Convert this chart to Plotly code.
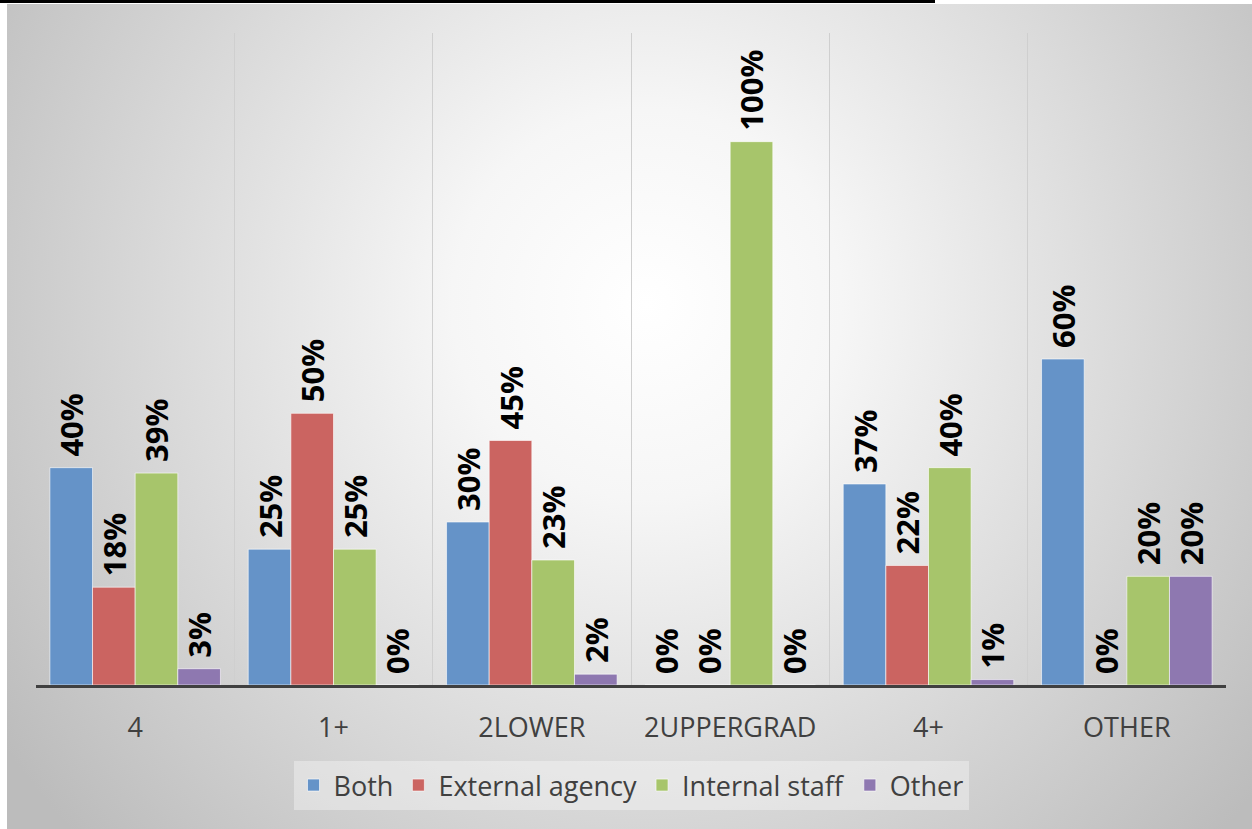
import plotly.graph_objs as go

categories = ["4", "1+", "2LOWER", "2UPPERGRAD", "4+", "OTHER"]
both = [0.40, 0.25, 0.30, 0.00, 0.37, 0.60]
external_agency = [0.18, 0.50, 0.45, 0.00, 0.22, 0.00]
internal_staff = [0.39, 0.25, 0.23, 1.00, 0.40, 0.20]
other = [0.03, 0.00, 0.02, 0.00, 0.01, 0.20]

series = [
    ("Both", both, "#6593C8"),
    ("External agency", external_agency, "#CB6461"),
    ("Internal staff", internal_staff, "#A7C56B"),
    ("Other", other, "#8E78B0"),
]

W, H = 1252, 829
ML, MR, MT, MB = 36, 26, 33, 144
PW, PH = W - ML - MR, H - MT - MB


def px_x(x):
    return (x - ML) / PW


def px_y(y):
    return 1 - (y - MT) / PH


# fond en dégradé radial (comme le style Excel)
box_w, box_h = W - 7, H - 4
svg = (
    f"<svg xmlns='http://www.w3.org/2000/svg' width='{box_w}' height='{box_h}' "
    f"viewBox='0 0 {box_w} {box_h}' preserveAspectRatio='none'>"
    "<defs><radialGradient id='g' gradientUnits='userSpaceOnUse' "
    f"cx='640' cy='300' r='780'>"
    "<stop offset='0' stop-color='#ffffff'/>"
    "<stop offset='0.25' stop-color='#f6f6f6'/>"
    "<stop offset='1' stop-color='#bcbcbc'/>"
    "</radialGradient></defs>"
    f"<rect width='{box_w}' height='{box_h}' fill='url(#g)'/></svg>"
)
bg_src = "data:image/svg+xml;utf8," + svg.replace("#", "%23").replace("<", "%3C").replace(">", "%3E")

fig = go.Figure()
for name, vals, color in series:
    fig.add_trace(go.Bar(
        x=categories,
        y=vals,
        name=name,
        marker=dict(color=color, line=dict(color="rgba(255,255,255,0.6)", width=1)),
        # espace insécable pour décoller l'étiquette du haut de la barre
        text=[f"\u00a0{v:.0%}" for v in vals],
        textposition="outside",
        textangle=-90,
        constraintext="none",
        cliponaxis=False,
        textfont=dict(family="Open Sans", size=31, color="black", weight="bold"),
        hoverinfo="skip",
    ))

fig.update_layout(
    width=W,
    height=H,
    margin=dict(l=ML, r=MR, t=MT, b=MB),
    paper_bgcolor="white",
    plot_bgcolor="rgba(0,0,0,0)",
    barmode="group",
    bargap=0.14,
    bargroupgap=0,
    font=dict(family="Open Sans", color="#404040"),
    images=[dict(
        source=bg_src,
        xref="paper", yref="paper",
        x=px_x(7), y=px_y(4),
        sizex=box_w / PW, sizey=box_h / PH,
        xanchor="left", yanchor="top",
        sizing="stretch",
        layer="below",
    )],
    shapes=[dict(
        type="line", xref="paper", yref="paper",
        x0=px_x(0), x1=px_x(935), y0=px_y(1.5), y1=px_y(1.5),
        line=dict(color="black", width=3),
    )],
    legend=dict(
        orientation="h",
        x=0.5, xanchor="center",
        yref="container", y=1 - 761 / H, yanchor="top",
        bgcolor="rgba(255,255,255,0.35)",
        font=dict(family="Open Sans", size=27, color="#404040"),
        itemclick=False,
    ),
    xaxis=dict(
        tickson="boundaries",
        showgrid=True,
        gridcolor="#cfcfcf",
        gridwidth=1,
        ticks="",
        showline=True,
        linecolor="#404040",
        linewidth=3,
        tickfont=dict(family="Open Sans", size=27, color="#404040"),
        ticklabelstandoff=17,
    ),
    yaxis=dict(
        range=[0, 1.2],
        visible=False,
        showgrid=False,
        zeroline=False,
    ),
)

fig.write_html("out.html", config={"displayModeBar": False},
               post_script="document.body.style.margin='0';")
